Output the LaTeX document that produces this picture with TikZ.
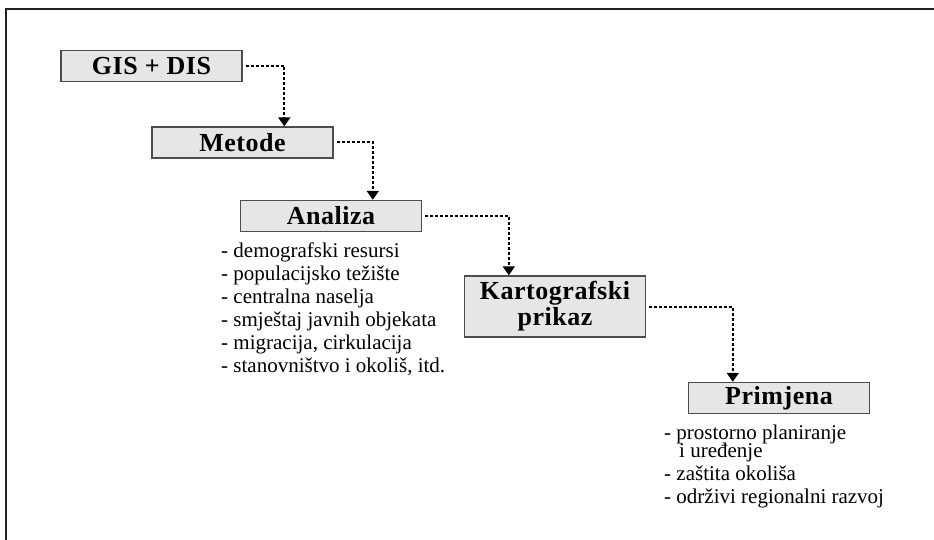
\documentclass[tikz,border=0pt]{standalone}
\usepackage{fontspec}
\setmainfont{Liberation Serif}
\newfontfamily\titlefont[LetterSpace=2]{Liberation Serif}
\usetikzlibrary{arrows.meta}
\definecolor{boxfill}{HTML}{E6E6E6}
\definecolor{boxline}{HTML}{4D4D4D}
\definecolor{framecol}{HTML}{222222}
\begin{document}
\begin{tikzpicture}[x=1pt,y=-1pt,
  stepbox/.style={draw=boxline, fill=boxfill, line width=1.4pt, minimum width=181pt, minimum height=31pt, inner sep=0pt, align=center, font={\titlefont\fontsize{26}{26}\selectfont\bfseries}},
  conn/.style={line width=2pt, dash pattern=on 3pt off 2pt, -{Triangle[width=12pt,length=9pt]}},
  listtext/.style={font={\fontsize{21}{23}\selectfont}, align=left, inner sep=0pt, anchor=base west}]
\useasboundingbox (0,0) rectangle (934,540);
\fill[white] (0,0) rectangle (934,540);
\draw[framecol, line width=2pt] (934,9) -- (6,9) -- (6,540);

\node[stepbox] (gis) at (151.5,66) {GIS + DIS};
\node[stepbox] (metode) at (242.5,142.5) {Metode};
\node[stepbox] (analiza) at (331,216) {Analiza};
\node[stepbox, minimum height=61pt] (karto) at (555,306.5) {Kartografski\\prikaz};
\node[stepbox] (primjena) at (779,398) {Primjena};

\draw[conn] ([xshift=3pt]gis.east) -| ([xshift=133pt]metode.north west);
\draw[conn] ([xshift=3pt]metode.east) -| ([xshift=133pt]analiza.north west);
\draw[conn] ([xshift=3pt]analiza.east) -| ([xshift=45pt]karto.north west);
\draw[conn] ([xshift=3pt]karto.east) -| ([xshift=45pt]primjena.north west);

\node[listtext] (alist) at (221,372) {- demografski resursi\\- populacijsko težište\\- centralna naselja\\- smještaj javnih objekata\\- migracija, cirkulacija\\- stanovništvo i okoliš, itd.};
\node[listtext] (plist) at (664,503) {- prostorno planiranje\\[-5pt]\hspace*{15pt}i uređenje\\- zaštita okoliša\\- održivi regionalni razvoj};
\end{tikzpicture}
\end{document}
